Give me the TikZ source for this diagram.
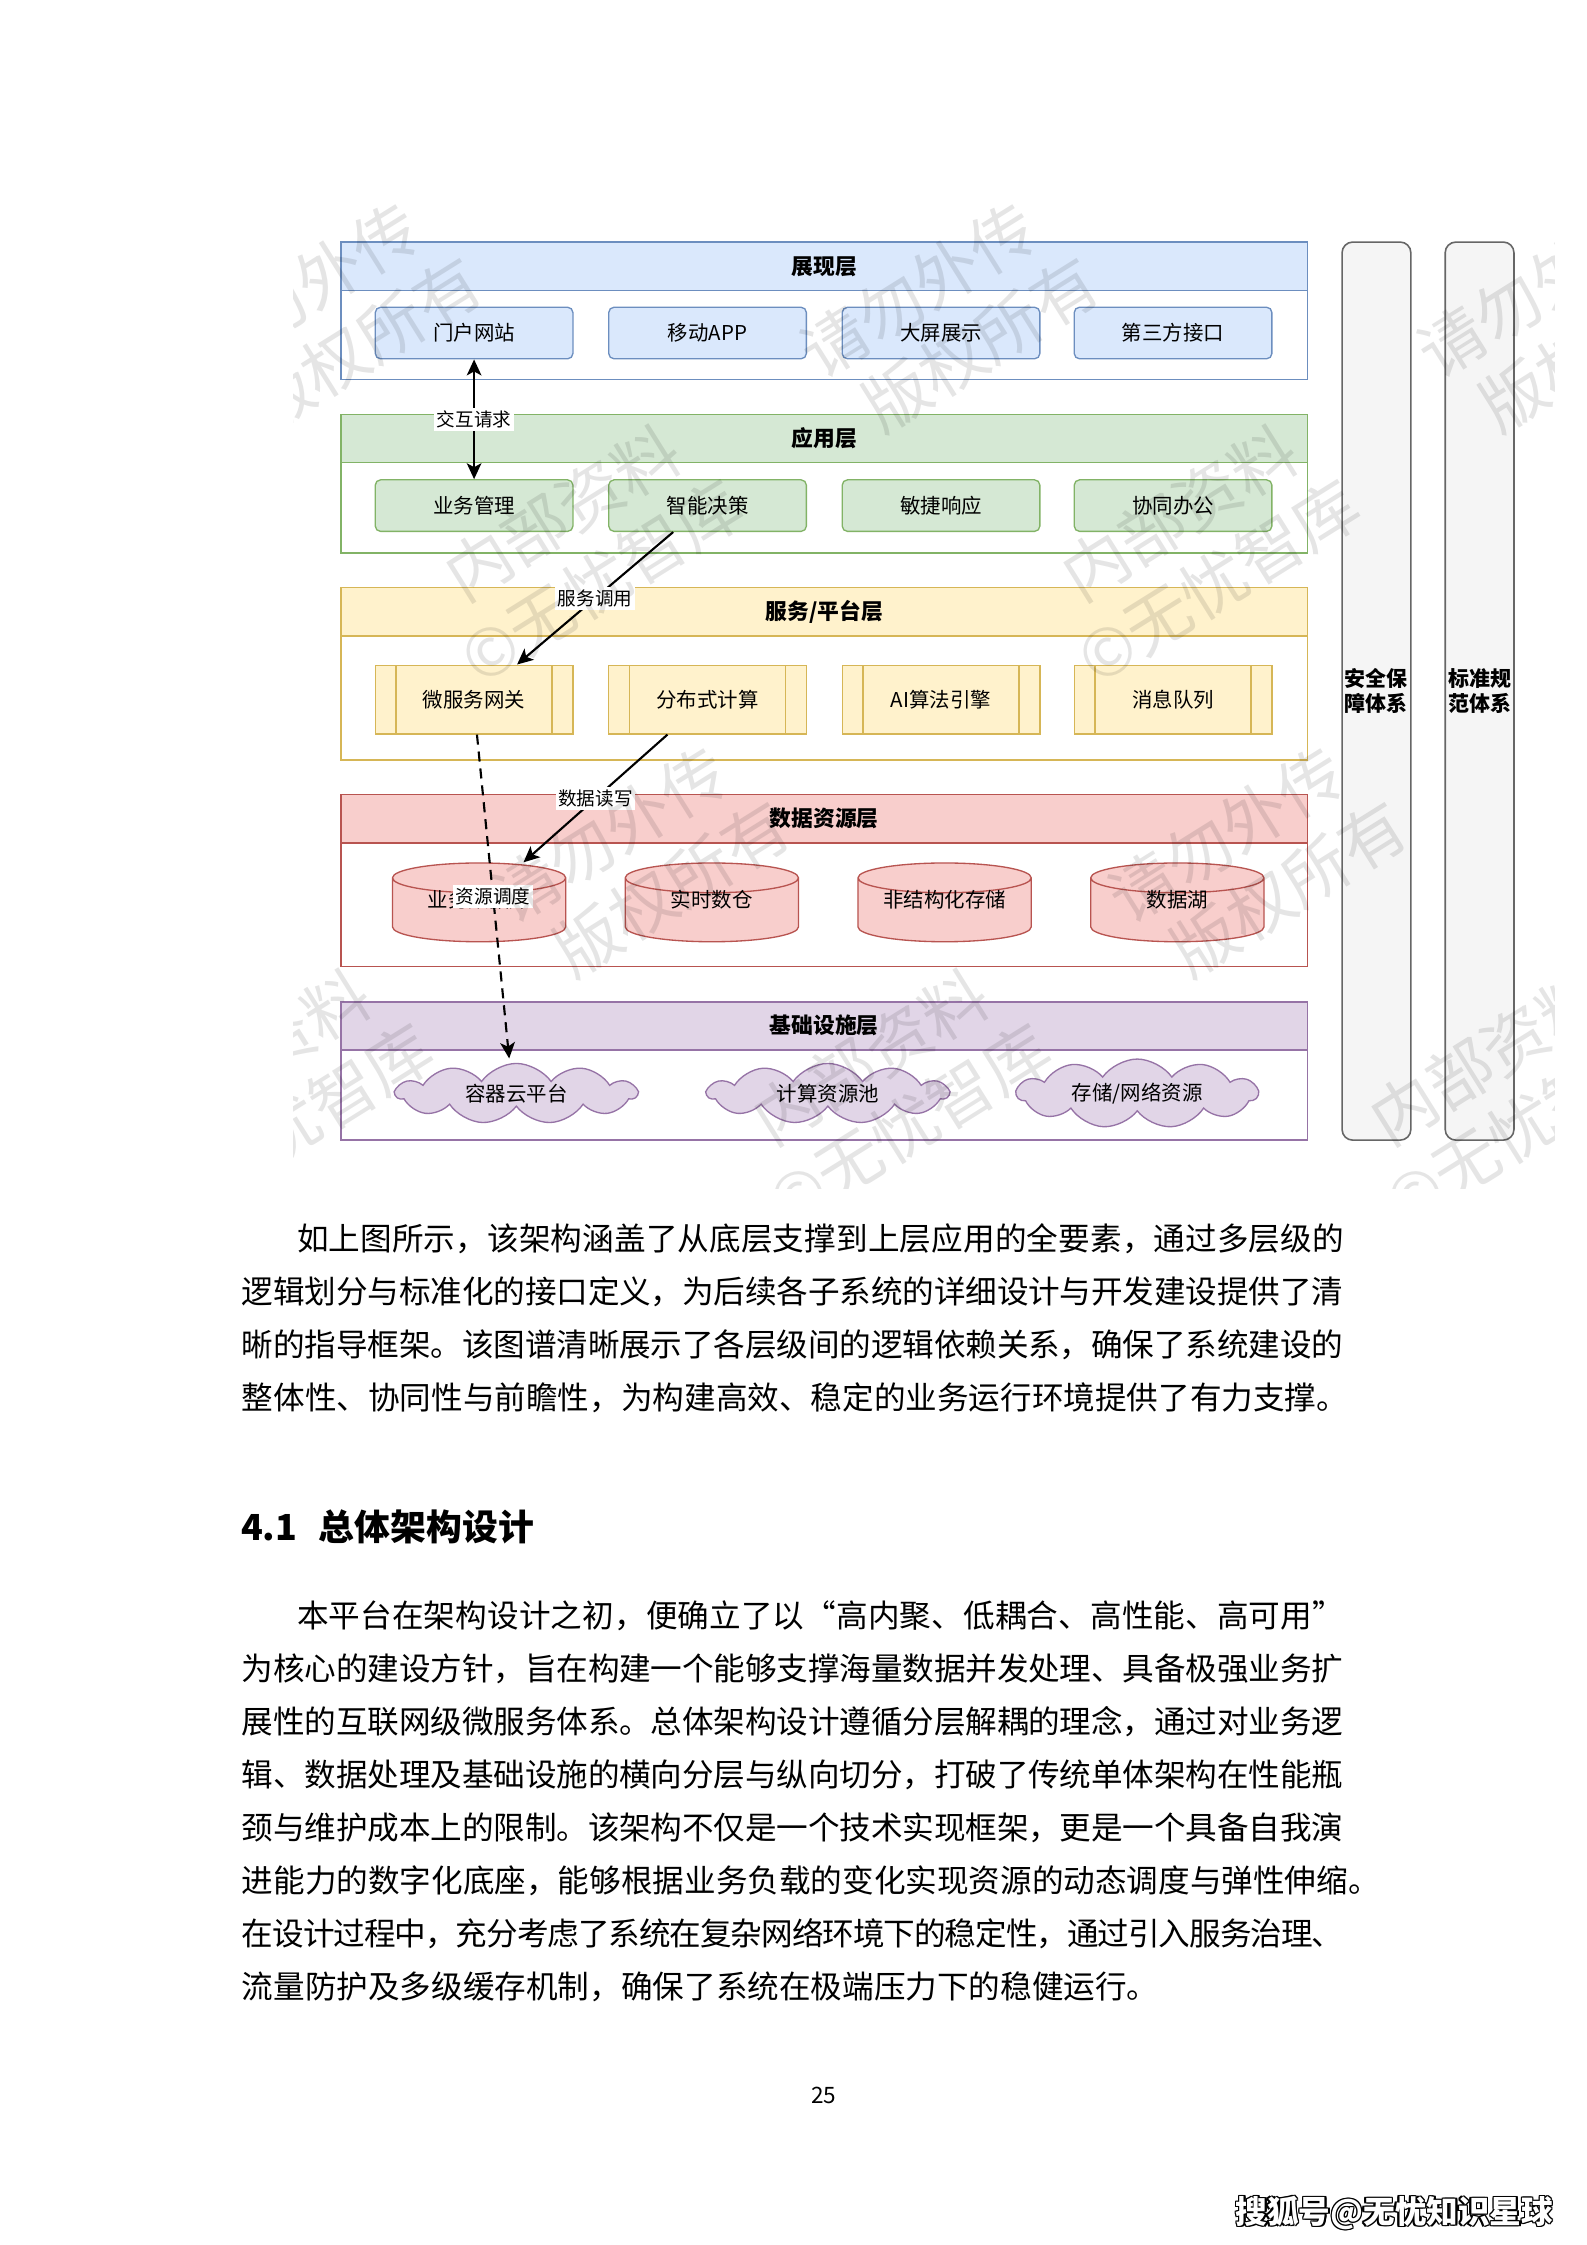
\documentclass[tikz,border=0pt]{standalone}
\usepackage{fontspec}
\setmainfont{Noto Sans CJK SC}
\usetikzlibrary{arrows.meta,calc,shapes.geometric,shapes.symbols}

\definecolor{blueF}{HTML}{DAE8FC}
\definecolor{blueD}{HTML}{6C8EBF}
\definecolor{greenF}{HTML}{D5E8D4}
\definecolor{greenD}{HTML}{82B366}
\definecolor{yellowF}{HTML}{FFF2CC}
\definecolor{yellowD}{HTML}{D6B656}
\definecolor{redF}{HTML}{F8CECC}
\definecolor{redD}{HTML}{B85450}
\definecolor{purpleF}{HTML}{E1D5E7}
\definecolor{purpleD}{HTML}{9673A6}
\definecolor{grayF}{HTML}{F5F5F5}
\definecolor{grayD}{HTML}{666666}

\newlength{\dpx}
\setlength{\dpx}{0.018953cm}

% 汉字之间的弹性间距, 用于两端对齐的正文行
\newcount\hanzi
\hanzi="4E00
\loop
  \XeTeXcharclass\hanzi=100
  \advance\hanzi by 1
\ifnum\hanzi<"A000 \repeat
\XeTeXcharclass"FF0C=100
\XeTeXcharclass"3001=100
\XeTeXcharclass"3002=100
\XeTeXcharclass"201C=100
\XeTeXcharclass"201D=100
\XeTeXinterchartokenstate=1
\XeTeXinterchartoks 100 100={\hskip0pt plus 0.3em minus 0.06em}
\newcommand{\fullline}[1]{\makebox[769\dpx][s]{#1}}
\newcommand{\firstline}[1]{\makebox[731\dpx][s]{#1}}

\tikzset{
  layer/.style={line width=0.5pt, fill=white},
  head/.style={font=\fontsize{8.2pt}{10pt}\selectfont\bfseries},
  item/.style={rounded corners=2pt, minimum width=138\dpx, minimum height=36\dpx,
    line width=0.5pt, font=\fontsize{7.7pt}{9pt}\selectfont},
  proc/.style={item, rounded corners=0pt, minimum height=48\dpx, draw=yellowD, fill=yellowF,
    path picture={\draw[yellowD, line width=0.5pt]
      ([xshift=14.5\dpx]path picture bounding box.north west) -- ([xshift=14.5\dpx]path picture bounding box.south west)
      ([xshift=-14.5\dpx]path picture bounding box.north east) -- ([xshift=-14.5\dpx]path picture bounding box.south east);}},
  db/.style={cylinder, shape border rotate=90, aspect=0.2, anchor=shape center, inner sep=0pt,
    minimum width=121\dpx, minimum height=55\dpx, draw=redD, fill=redF, line width=0.5pt},
  dbt/.style={inner sep=0pt, font=\fontsize{7.7pt}{9pt}\selectfont},
  cld/.style={cloud, cloud puffs=11, cloud puff arc=110, cloud ignores aspect, inner sep=1.6pt,
    minimum width=168\dpx, minimum height=40\dpx, draw=purpleD, fill=purpleF, line width=0.5pt,
    font=\fontsize{7.7pt}{9pt}\selectfont},
  side/.style={draw=grayD, fill=grayF, rounded corners=4pt, minimum width=48\dpx, minimum height=627\dpx,
    inner xsep=0.5pt, line width=0.6pt, align=center, font=\fontsize{7.9pt}{9.4pt}\selectfont\bfseries},
  lbl/.style={fill=white, inner sep=1pt, font=\fontsize{7pt}{8pt}\selectfont},
  link/.style={line width=0.8pt},
  txt/.style={anchor=west, inner sep=0pt, font=\fontsize{11.9pt}{14pt}\selectfont},
  wm/.style={anchor=west, inner sep=0pt, rotate=32, text=black, opacity=0.1, font=\fontsize{24.7pt}{26pt}\selectfont}
}

\begin{document}
\begin{tikzpicture}[x=0.018953cm, y=-0.018953cm, >={Stealth[length=6pt,width=5.5pt,inset=1.5pt]}]
    \fill[white] (0,0) rectangle (1108,1567.4);
    \useasboundingbox (0,0) rectangle (1108,1567.4);

    % 展现层
    \draw[layer, draw=blueD] (238,169) rectangle (913,265);
    \draw[layer, draw=blueD, fill=blueF] (238,169) rectangle (913,203);
    \node[head] (presT) at (575.5,186) {展现层};
    \node[item, draw=blueD, fill=blueF] (door) at (331,232.5) {门户网站};
    \node[item, draw=blueD, fill=blueF] (app) at (494,232.5) {移动APP};
    \node[item, draw=blueD, fill=blueF] (screen) at (657,232.5) {大屏展示};
    \node[item, draw=blueD, fill=blueF] (api) at (819,232.5) {第三方接口};

    % 应用层
    \draw[layer, draw=greenD] (238,289.5) rectangle (913,386);
    \draw[layer, draw=greenD, fill=greenF] (238,289.5) rectangle (913,323);
    \node[head] (appT) at (575.5,306) {应用层};
    \node[item, draw=greenD, fill=greenF] (biz) at (331,353) {业务管理};
    \node[item, draw=greenD, fill=greenF] (smart) at (494,353) {智能决策};
    \node[item, draw=greenD, fill=greenF] (agile) at (657,353) {敏捷响应};
    \node[item, draw=greenD, fill=greenF] (office) at (819,353) {协同办公};

    % 服务/平台层
    \draw[layer, draw=yellowD] (238,410) rectangle (913,530.5);
    \draw[layer, draw=yellowD, fill=yellowF] (238,410) rectangle (913,444);
    \node[head] (srvT) at (575.5,427) {服务/平台层};
    \node[proc] (gw) at (331,488.4) {微服务网关};
    \node[proc] (dist) at (494,488.4) {分布式计算};
    \node[proc] (ai) at (657,488.4) {AI算法引擎};
    \node[proc] (mq) at (819,488.4) {消息队列};

    % 数据资源层
    \draw[layer, draw=redD] (238,554.5) rectangle (913,675);
    \draw[layer, draw=redD, fill=redF] (238,554.5) rectangle (913,588.5);
    \node[head] (dataT) at (575.5,571.5) {数据资源层};
    \node[db] (cyl1) at (334.5,630) {\hspace*{56pt}};
    \node[db] (cyl2) at (497,630) {\hspace*{56pt}};
    \node[db] (cyl3) at (659.5,630) {\hspace*{56pt}};
    \node[db] (cyl4) at (822,630) {\hspace*{56pt}};
    \node[dbt] (cyl1T) at (334.5,628) {业务数据库};
    \node[dbt] (cyl2T) at (497,628) {实时数仓};
    \node[dbt] (cyl3T) at (659.5,628) {非结构化存储};
    \node[dbt] (cyl4T) at (822,628) {数据湖};

    % 基础设施层
    \draw[layer, draw=purpleD] (238,699.5) rectangle (913,796);
    \draw[layer, draw=purpleD, fill=purpleF] (238,699.5) rectangle (913,733);
    \node[head] (infraT) at (575.5,716) {基础设施层};
    \node[cld] (cloudA) at (360.5,763.5) {容器云平台};
    \node[cld] (cloudB) at (578,763.5) {计算资源池};
    \node[cld] (cloudC) at (794,763.5) {存储/网络资源};

    % 纵向体系
    \node[side] (sec) at (961,482.5) {安全保\\障体系};
    \node[side] (std) at (1033,482.5) {标准规\\范体系};

    % 层间调用
    \draw[link, <->] (door.south) -- (biz.north) node[lbl, midway] (reqL) {交互请求};
    \draw[link, ->] ($(smart.south)+(-24,0)$) -- ($(gw.north)+(30,0)$) node[lbl, midway] (callL) {服务调用};
    \draw[link, ->] ($(dist.south)+(-28,0)$) -- ($(cyl1.north)+(31,0)$) node[lbl, midway] (rwL) {数据读写};
    \draw[link, ->, dash pattern=on 3.8pt off 2.6pt] ($(gw.south)+(2,0)$) -- ($(cloudA.center)+(-5,-24.5)$)
        node[lbl, midway] (schedL) {资源调度};

    % 水印
    \begin{scope}
        \clip (205,135) rectangle (1085,830);
        \foreach \a in {-1,0,1}
            \foreach \b in {0,1} {
                \node[wm] (wmA\a\b) at ({314.6+431*\a+215*\b},{406.7+380*\b}) {内部资料\hspace{110\dpx}请勿外传};
                \node[wm] (wmB\a\b) at ({325.7+431*\a+215*\b},{464.6+380*\b}) {©无忧智库\hspace{110\dpx}版权所有};
            }
    \end{scope}

    % 正文
    \node[txt] (p1a) at (207,865) {\firstline{如上图所示，该架构涵盖了从底层支撑到上层应用的全要素，通过多层级的}};
    \node[txt] (p1b) at (168.5,902) {\fullline{逻辑划分与标准化的接口定义，为后续各子系统的详细设计与开发建设提供了清}};
    \node[txt] (p1c) at (168.5,939) {\fullline{晰的指导框架。该图谱清晰展示了各层级间的逻辑依赖关系，确保了系统建设的}};
    \node[txt] (p1d) at (168.5,976) {整体性、协同性与前瞻性，为构建高效、稳定的业务运行环境提供了有力支撑。};

    \node[txt, font=\fontsize{13.5pt}{16pt}\selectfont\bfseries] (sec41) at (168,1066) {4.1\hspace{0.6em}总体架构设计};

    \node[txt] (p2a) at (207,1128) {\firstline{本平台在架构设计之初，便确立了以“高内聚、低耦合、高性能、高可用”}};
    \node[txt] (p2b) at (168.5,1165) {\fullline{为核心的建设方针，旨在构建一个能够支撑海量数据并发处理、具备极强业务扩}};
    \node[txt] (p2c) at (168.5,1202) {\fullline{展性的互联网级微服务体系。总体架构设计遵循分层解耦的理念，通过对业务逻}};
    \node[txt] (p2d) at (168.5,1239) {\fullline{辑、数据处理及基础设施的横向分层与纵向切分，打破了传统单体架构在性能瓶}};
    \node[txt] (p2e) at (168.5,1276) {\fullline{颈与维护成本上的限制。该架构不仅是一个技术实现框架，更是一个具备自我演}};
    \node[txt] (p2f) at (168.5,1313) {进能力的数字化底座，能够根据业务负载的变化实现资源的动态调度与弹性伸缩。};
    \node[txt] (p2g) at (168.5,1350) {\fullline{在设计过程中，充分考虑了系统在复杂网络环境下的稳定性，通过引入服务治理、}};
    \node[txt] (p2h) at (168.5,1387) {流量防护及多级缓存机制，确保了系统在极端压力下的稳健运行。};

    % 页码与署名
    \node[font=\fontsize{8.5pt}{10pt}\selectfont] (pnum) at (575,1463) {25};
    \foreach \dx/\dy [count=\k] in {-1/0,1/0,0/-1,0/1,1/1,-1/-1,1/-1,-1/1}
        \node[font=\fontsize{11.9pt}{13pt}\selectfont\bfseries, text=black] (sohuB\k) at (973.5+\dx,1545+\dy) {搜狐号@无忧知识星球};
    \node[font=\fontsize{11.9pt}{13pt}\selectfont\bfseries, text=white] (sohu) at (973.5,1545) {搜狐号@无忧知识星球};
\end{tikzpicture}
\end{document}
